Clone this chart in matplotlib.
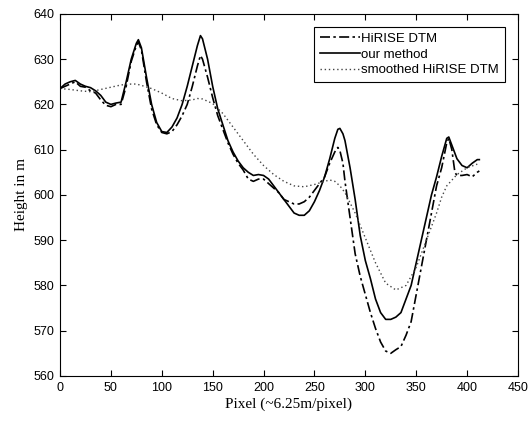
import matplotlib
matplotlib.use("Agg")
import matplotlib.pyplot as plt

# our method (solid)
x_our = [0, 5, 10, 15, 20, 25, 30, 35, 40, 45, 50, 55, 60, 65, 70, 75, 77, 80, 85, 90, 95, 100, 105, 110,
         115, 120, 125, 130, 135, 138, 140, 145, 150, 155, 160, 165, 170, 175, 180, 185, 190, 195, 200,
         205, 210, 215, 220, 225, 230, 235, 240, 245, 250, 255, 260, 265, 270, 273, 275, 278, 280, 285,
         290, 295, 300, 305, 310, 315, 320, 325, 330, 335, 340, 345, 350, 355, 360, 365, 370, 375, 380,
         382, 385, 390, 395, 400, 405, 410, 412]
y_our = [623.5, 624.5, 625, 625.3, 624.5, 624, 623.7, 623, 622, 620.5, 620, 620.3, 620.5, 625, 630, 633.5,
         634.3, 632.5, 626, 620, 616, 614, 613.8, 615, 617, 620, 624, 628.5, 633, 635.2, 634.5, 630, 624,
         619, 615.5, 612, 609.5, 607.5, 606, 605, 604.3, 604.5, 604.3, 603.5, 602, 600.5, 599, 597.5, 596,
         595.5, 595.5, 596.5, 598.5, 601, 604, 608, 612.5, 614.5, 614.7, 613.5, 612, 606, 599, 591, 585.5,
         581.5, 577, 574, 572.5, 572.5, 573, 574, 577, 580, 585, 590, 595, 600, 604, 608.5, 612.5, 612.8,
         611, 608, 606.5, 606, 607, 607.8, 607.8]

# HiRISE DTM (dash-dot)
x_hir = [0, 5, 10, 15, 20, 25, 30, 35, 40, 45, 50, 55, 60, 65, 70, 75, 77, 80, 85, 90, 95, 100, 105, 110,
         115, 120, 125, 130, 135, 138, 140, 145, 150, 155, 160, 165, 170, 175, 180, 185, 190, 195, 200,
         205, 210, 215, 220, 225, 230, 235, 240, 245, 250, 255, 260, 265, 270, 273, 275, 278, 280, 285,
         290, 295, 300, 305, 310, 315, 320, 325, 330, 335, 340, 345, 350, 355, 360, 365, 370, 375, 380,
         382, 385, 388, 390, 395, 400, 405, 410, 412]
y_hir = [623.5, 624, 624.5, 625, 624, 623.8, 623, 622.5, 621, 619.8, 619.5, 620, 620, 624, 629.5, 633,
         633.8, 632, 625, 619, 615.5, 613.8, 613.5, 614, 615.5, 617.5, 620, 624, 628.5, 630.8, 630, 626,
         621.5, 617.5, 614.5, 611.5, 609, 607, 605.5, 603.5, 603, 603.5, 603.5, 602.5, 601.5, 600.5, 599,
         598.5, 598, 598, 598.5, 599.5, 601, 602.5, 604, 607, 609.5, 610.5, 609.8, 607, 603, 595, 587,
         582, 578, 574, 570.5, 567.5, 565.5, 565, 565.8, 566.5, 569, 572, 578, 584, 590, 596, 602, 606,
         611.5, 612.5, 610, 605, 604.3, 604.3, 604.5, 604, 605, 605.3]

# smoothed HiRISE DTM (dotted)
x_smo = [0, 10, 20, 30, 40, 50, 60, 70, 75, 80, 90, 100, 110, 120, 130, 135, 140, 150, 160, 170, 180,
         190, 200, 210, 220, 230, 240, 250, 260, 265, 270, 275, 280, 290, 300, 310, 320, 330, 340, 350,
         360, 370, 375, 380, 390, 400, 410]
y_smo = [623.5, 623.3, 623, 622.8, 623.3, 623.8, 624.3, 624.5, 624.5, 624.2, 623.5, 622.5, 621.3, 620.8,
         621, 621.3, 621.2, 620.2, 618, 615, 612, 609, 606.5, 604.5, 603, 602, 601.8, 602.3, 603, 603.3,
         603, 602, 600.5, 596, 590.5, 585, 580.5, 579, 580, 584, 590, 596, 599.5, 602, 604.5, 606, 606.8]

x_ticks = [0, 50, 100, 150, 200, 250, 300, 350, 400, 450]
y_ticks = [560, 570, 580, 590, 600, 610, 620, 630, 640]

fig = plt.figure(figsize=(5.31, 4.21), dpi=100)
ax = fig.add_axes([0.113, 0.107, 0.8625, 0.86])

ax.plot(x_hir, y_hir, color='black', linestyle=(0, (6, 2, 1.5, 2)), linewidth=1.2, label='HiRISE DTM')
ax.plot(x_our, y_our, color='black', linestyle='-', linewidth=1.2, label='our method')
ax.plot(x_smo, y_smo, color='#444444', linestyle=(0, (1, 2)), linewidth=1.0, label='smoothed HiRISE DTM')

ax.set_xlim(0, 450)
ax.set_ylim(560, 640)
ax.set_xticks(x_ticks)
ax.set_yticks(y_ticks)
ax.tick_params(direction='in', top=True, right=True, length=4, width=0.8,
               labelsize=9, pad=4)
for lab in ax.get_xticklabels() + ax.get_yticklabels():
    lab.set_fontfamily('Liberation Sans')
for sp in ax.spines.values():
    sp.set_linewidth(0.8)

ax.set_xlabel('Pixel (~6.25m/pixel)', fontfamily='Liberation Serif', fontsize=11, labelpad=3)
ax.set_ylabel('Height in m', fontfamily='Liberation Serif', fontsize=11, labelpad=4)

leg = ax.legend(loc='upper right', bbox_to_anchor=(0.972, 0.964), prop={'family': 'Liberation Sans', 'size': 9.5},
                frameon=True, fancybox=False, edgecolor='black', framealpha=1,
                handlelength=3.0, handletextpad=0.15, borderpad=0.45, labelspacing=0.25,
                borderaxespad=0)
leg.get_frame().set_linewidth(0.8)

fig.savefig('out.png', dpi=100)
